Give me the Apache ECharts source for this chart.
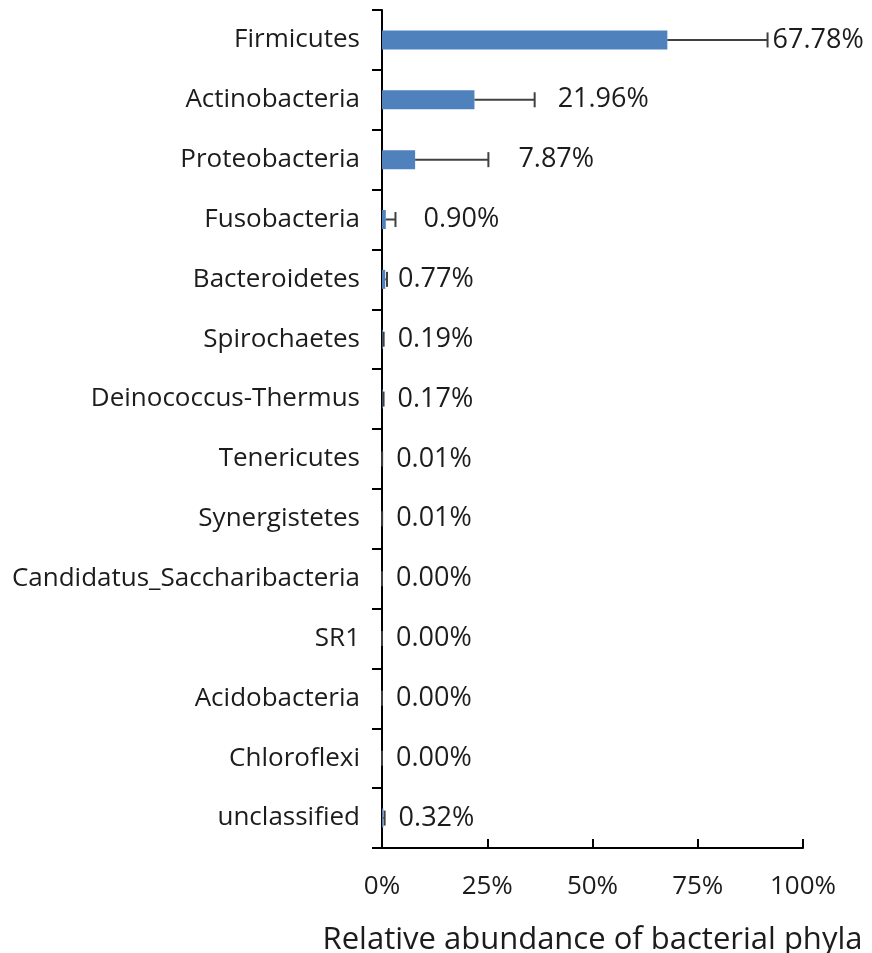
<!DOCTYPE html>
<html>
<head>
<meta charset="utf-8">
<title>Relative abundance of bacterial phyla</title>
<script src="https://cdn.jsdelivr.net/npm/echarts@6/dist/echarts.min.js"></script>
<style>
  html, body { margin: 0; padding: 0; background: #ffffff; }
  #chart { width: 872px; height: 953px; }
</style>
</head>
<body>
<div id="chart"></div>
<script>
// Phyla, top to bottom
const phyla = [
  'Firmicutes', 'Actinobacteria', 'Proteobacteria', 'Fusobacteria',
  'Bacteroidetes', 'Spirochaetes', 'Deinococcus-Thermus', 'Tenericutes',
  'Synergistetes', 'Candidatus_Saccharibacteria', 'SR1', 'Acidobacteria',
  'Chloroflexi', 'unclassified'
];

// Mean relative abundance (%)
const abundance = [67.78, 21.96, 7.87, 0.90, 0.77, 0.19, 0.17, 0.01, 0.01, 0.00, 0.00, 0.00, 0.00, 0.32];

// Positive error (%)
const errorPlus = [23.8, 14.3, 17.4, 2.3, 0.42, 0.2, 0.2, 0.02, 0.02, 0.0, 0.0, 0.0, 0.0, 0.3];

// Axis ticks (%)
const xTicks = [0, 25, 50, 75, 100];

// ---- styling ----
const FONT = '"Open Sans", "Noto Sans", sans-serif';
const TEXT_COLOR = '#1c1c1c';
const BAR_COLOR = '#4f81bd';
const WHISKER_COLOR = '#404040';
// horizontal pixel gap between whisker end and value label, per row
const labelGap = [5, 23, 30, 28, 11, 14, 14, 14, 14, 14, 14, 14, 14, 14];

const chart = echarts.init(document.getElementById('chart'), null, { renderer: 'canvas' });

const whiskerData = abundance.map((v, i) => [v, errorPlus[i], i]);

chart.setOption({
  animation: false,
  backgroundColor: '#ffffff',
  grid: {
    left: 382, right: 69, top: 10, bottom: 105,
    containLabel: false,
    outerBoundsMode: 'none'
  },
  xAxis: {
    type: 'value',
    min: xTicks[0],
    max: xTicks[xTicks.length - 1],
    interval: 25,
    name: 'Relative abundance of bacterial phyla',
    nameLocation: 'middle',
    nameGap: 77,
    nameTextStyle: { fontFamily: FONT, fontSize: 31, color: TEXT_COLOR, align: 'center' },
    axisLine: { show: true, lineStyle: { color: '#000000', width: 2 } },
    axisTick: { show: true, inside: true, length: 9, lineStyle: { color: '#000000', width: 2 } },
    axisLabel: {
      margin: 26,
      fontFamily: FONT, fontSize: 26, color: TEXT_COLOR,
      formatter: '{value}%'
    },
    splitLine: { show: false }
  },
  yAxis: {
    type: 'category',
    data: phyla,
    inverse: true,
    axisLine: { show: true, lineStyle: { color: '#000000', width: 2 } },
    axisTick: { show: true, length: 10, lineStyle: { color: '#000000', width: 2 } },
    axisLabel: { margin: 22, fontFamily: FONT, fontSize: 26, color: TEXT_COLOR },
    splitLine: { show: false }
  },
  series: [
    {
      type: 'bar',
      data: abundance,
      barWidth: 19,
      itemStyle: { color: BAR_COLOR },
      z: 2
    },
    {
      type: 'custom',
      data: whiskerData,
      encode: { x: 0, y: 2 },
      z: 3,
      renderItem: function (params, api) {
        const v = api.value(0);
        const e = api.value(1);
        const idx = api.value(2);
        const p0 = api.coord([v, idx]);
        const p1 = api.coord([v + e, idx]);
        const cap = 7.5;
        return {
          type: 'group',
          children: [
            {
              type: 'line',
              shape: { x1: p0[0], y1: p0[1], x2: p1[0], y2: p1[1] },
              style: { stroke: WHISKER_COLOR, lineWidth: 2 }
            },
            {
              type: 'line',
              shape: { x1: p1[0], y1: p1[1] - cap, x2: p1[0], y2: p1[1] + cap },
              style: { stroke: WHISKER_COLOR, lineWidth: 2 }
            },
            {
              type: 'text',
              x: p1[0] + labelGap[params.dataIndex],
              y: p1[1],
              style: {
                text: abundance[params.dataIndex].toFixed(2) + '%',
                fontFamily: FONT,
                fontSize: 27,
                fill: TEXT_COLOR,
                align: 'left',
                verticalAlign: 'middle'
              }
            }
          ]
        };
      }
    }
  ]
});
</script>
</body>
</html>
